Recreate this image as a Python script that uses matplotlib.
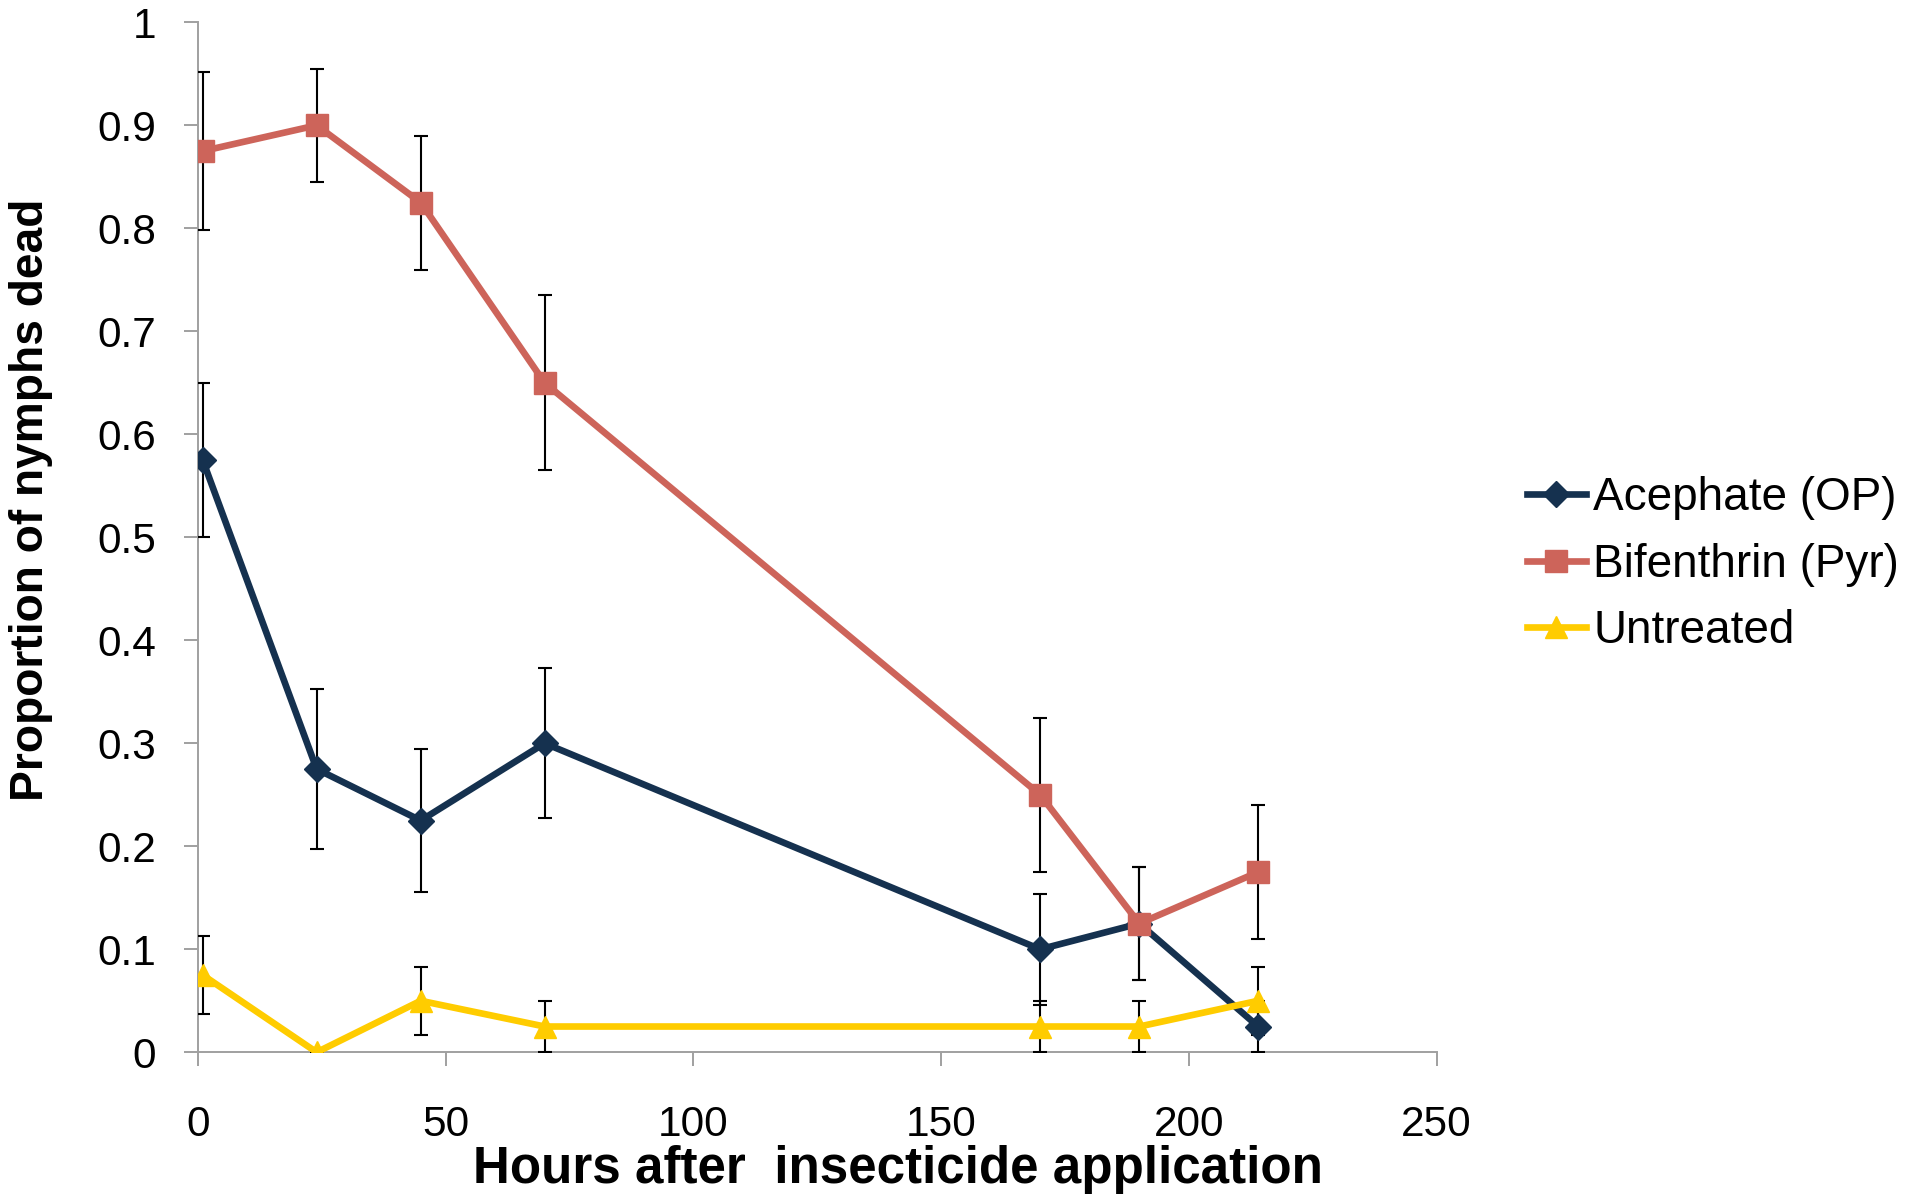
import matplotlib
matplotlib.use("Agg")
import matplotlib.pyplot as plt
from matplotlib.ticker import FuncFormatter

plt.rcParams['font.family'] = ['Liberation Sans', 'DejaVu Sans']

# hours after application
hours = [1, 24, 45, 70, 170, 190, 214]

acephate = [0.575, 0.275, 0.225, 0.3, 0.1, 0.125, 0.025]
acephate_err = [0.075, 0.078, 0.069, 0.073, 0.054, 0.055, 0.025]

bifenthrin = [0.875, 0.9, 0.825, 0.65, 0.25, 0.125, 0.175]
bifenthrin_err = [0.077, 0.055, 0.065, 0.085, 0.075, 0.055, 0.065]

untreated = [0.075, 0.0, 0.05, 0.025, 0.025, 0.025, 0.05]
untreated_err = [0.038, 0.0, 0.033, 0.025, 0.025, 0.025, 0.033]

series = [
    ("Acephate (OP)", acephate, acephate_err, "#15314F", "D", 13.5),
    ("Bifenthrin (Pyr)", bifenthrin, bifenthrin_err, "#CD645A", "s", 15.5),
    ("Untreated", untreated, untreated_err, "#FFCC00", "^", 15.5),
]

fig = plt.figure(figsize=(19.16, 11.94), dpi=100)
ax = fig.add_axes([0.1032, 0.1187, 0.6466, 0.8626])

# error bars first, beneath the lines and markers
for name, vals, err, col, mk, ms in series:
    ax.errorbar(hours, vals, yerr=err, fmt="none", ecolor="black",
                elinewidth=1.5, capsize=4.7, capthick=1.5, zorder=1)

for name, vals, err, col, mk, ms in series:
    ax.plot(hours, vals, color=col, lw=4.8, marker=mk, ms=ms,
            mec=col, mfc=col, label=name, zorder=2)

ax.set_xlim(0, 250)
ax.set_ylim(0, 1)
ax.set_xticks([0, 50, 100, 150, 200, 250])
ax.set_yticks([i / 10 for i in range(11)])
ax.yaxis.set_major_formatter(FuncFormatter(lambda v, p: f"{v:g}"))

for s in ["top", "right"]:
    ax.spines[s].set_visible(False)
for s in ["left", "bottom"]:
    ax.spines[s].set_color("#A0A0A0")
    ax.spines[s].set_linewidth(1.4)
    ax.spines[s].set_zorder(0)

ax.tick_params(axis="both", direction="out", length=10, width=1.4,
               color="#A0A0A0", labelsize=30.5, labelcolor="black")
ax.tick_params(axis="y", pad=20)
ax.tick_params(axis="x", pad=28)

fig.text(0.4687, 0.0092, "Hours after  insecticide application",
         ha="center", va="baseline", fontsize=36.8, fontweight="bold")
fig.text(0.0162, 0.5817, "Proportion of nymphs dead", rotation=90,
         ha="center", va="center", fontsize=33.2, fontweight="bold")

ax.legend(loc="center left", bbox_to_anchor=(0.7968, 0.527),
          bbox_transform=fig.transFigure, frameon=False, fontsize=33,
          handlelength=1.3, handletextpad=0.15, labelspacing=0.49,
          borderpad=0, borderaxespad=0)

fig.savefig("out.png", dpi=100)
